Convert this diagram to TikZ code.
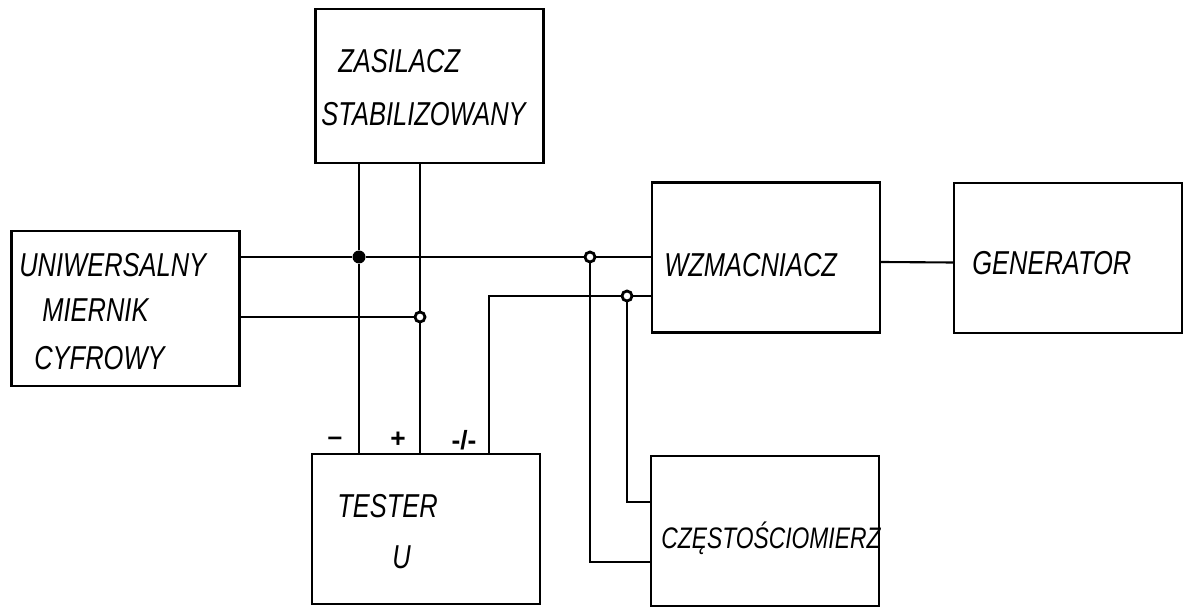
\documentclass[tikz,border=0pt]{standalone}
\usepackage{fontspec}
\usepackage{graphicx}
\setmainfont{Liberation Sans}
\usetikzlibrary{positioning}
\newcommand{\tall}[1]{\scalebox{1}[1.3]{#1}}

\begin{document}
\begin{tikzpicture}[
  x=0.02cm, y=-0.02cm,
  box/.style={rectangle, draw, line width=1.2pt, inner sep=0pt, minimum width=4.56cm, minimum height=3cm},
  lbl/.style={font=\fontsize{14.5}{16}\selectfont\itshape, anchor=base west, inner sep=0pt},
  wire/.style={line width=1.2pt},
  dotf/.style={circle, fill, inner sep=0pt, minimum size=0.26cm},
  doto/.style={circle, draw, fill=white, line width=1.6pt, inner sep=0pt, minimum size=0.2cm},
  pol/.style={font=\fontsize{15}{16}\selectfont\bfseries, inner sep=0pt},
]
\useasboundingbox (0,0) rectangle (1186,607);

% Boxes
\node[box, minimum height=3.08cm] (zas) at (429.5,86) {};
\node[box, minimum height=3.1cm] (uni) at (125.5,308.5) {};
\node[box] (tes) at (426,529) {};
\node[box] (wzm) at (766,257.5) {};
\node[box] (gen) at (1068,258) {};
\node[box] (cze) at (765,531) {};

% Texts
\node[lbl] (t1) at (338,73) {\tall{ZASILACZ}};
\node[lbl] (t2) at (321,126) {\tall{STABILIZOWANY}};
\node[lbl] (t3) at (19,277) {\tall{UNIWERSALNY}};
\node[lbl] (t4) at (42,322) {\tall{MIERNIK}};
\node[lbl] (t5) at (34,370) {\tall{CYFROWY}};
\node[lbl] (t6) at (337,517) {\tall{TESTER}};
\node[lbl] (t7) at (392,568) {\tall{U}};
\node[lbl] (t8) at (664,277) {\tall{WZMACNIACZ}};
\node[lbl] (t9) at (972,275) {\tall{GENERATOR}};
\node[lbl, font=\fontsize{13}{15}\selectfont\itshape] (t10) at (661,548) {\tall{CZĘSTOŚCIOMIERZ}};

% Junctions
\node[dotf] (j1) at (359,257) {};
\node[doto] (j2) at (590,257) {};
\node[doto] (j3) at (420,317) {};
\node[doto] (j4) at (627,296) {};
\coordinate (c1) at (489,296);

% Supply lines
\draw[wire] (zas.south -| j1) -- (j1) -- (tes.north -| j1);
\draw[wire] (zas.south -| j3) -- (j3) -- (tes.north -| j3);

% Meter lines
\draw[wire] (uni.east |- j1) -- (j1) -- (j2) -- (wzm.west |- j2);
\draw[wire] (uni.east |- j3) -- (j3);

% Tester signal line
\draw[wire] (tes.north -| c1) -- (c1) -- (j4) -- (wzm.west |- c1);

% Frequency meter
\draw[wire] (j2) |- ([yshift=-0.62cm]cze.west);
\draw[wire] (j4) |- ([yshift=0.58cm]cze.west);

% Amplifier to generator
\draw[wire] ([yshift=-0.09cm]wzm.east) -- ([yshift=-0.09cm]gen.west);

% Polarity marks
\node[pol] (p1) at (335,441) {--};
\node[pol] (p2) at (398,440) {+};
\node[pol] (p3) at (464,440) {-/-};

\end{tikzpicture}
\end{document}
